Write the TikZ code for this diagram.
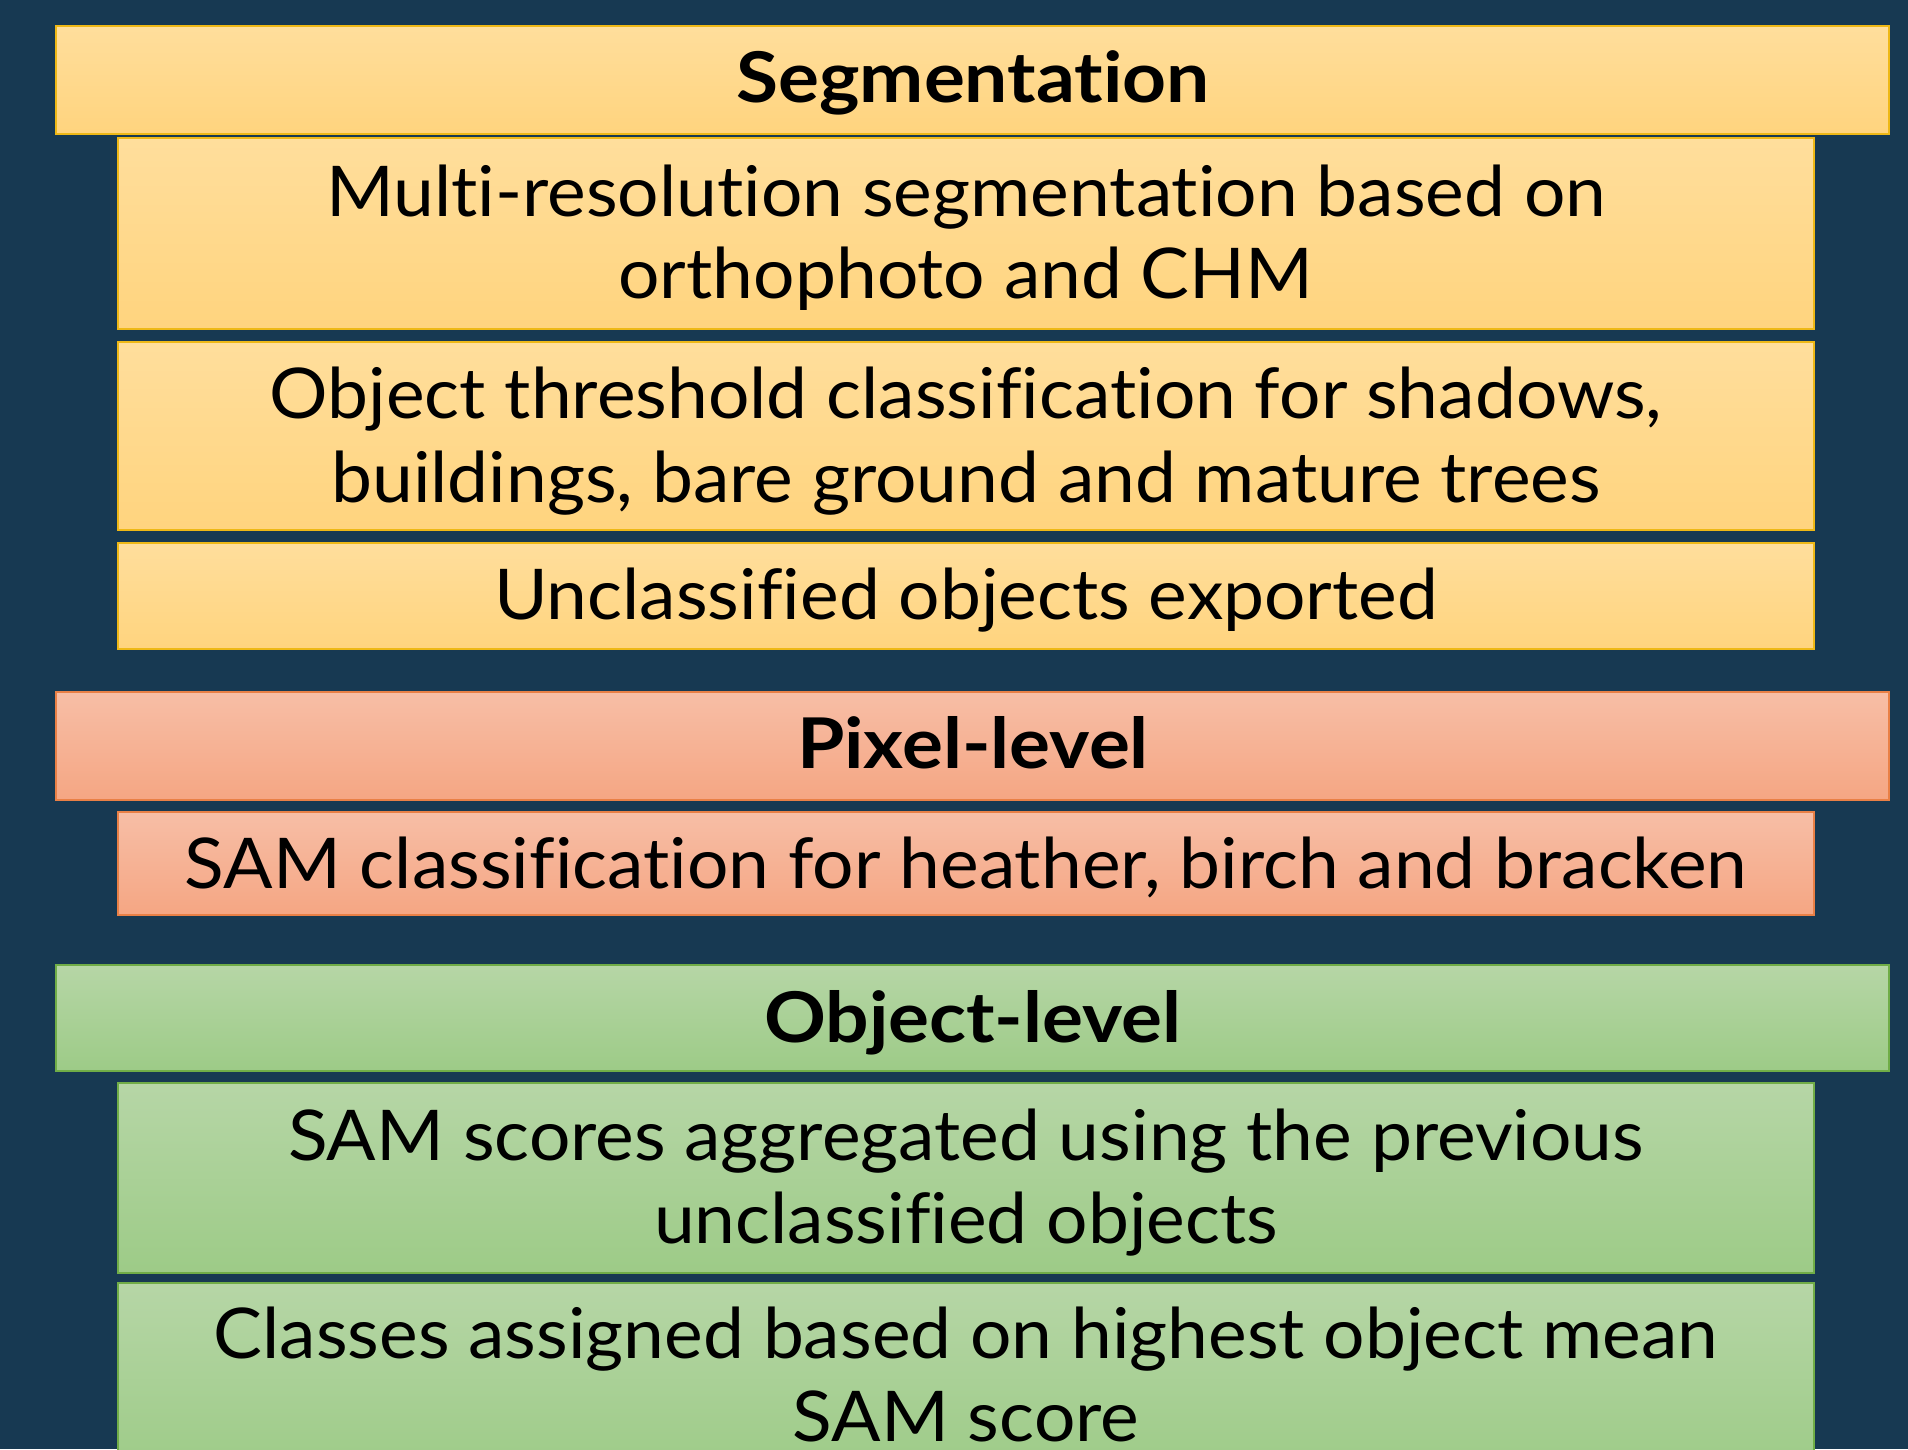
\documentclass[tikz,border=0pt]{standalone}
\usepackage{fontspec}
\setmainfont{Lato}[FakeStretch=1.045, Ligatures={NoCommon}]
\newfontfamily\hdfont{Lato}[FakeStretch=1.095, Ligatures={NoCommon}]
\definecolor{bg}{RGB}{23,57,82}
\definecolor{ytop}{RGB}{255,222,156}
\definecolor{ybot}{RGB}{255,212,126}
\definecolor{yline}{RGB}{238,184,22}
\definecolor{otop}{RGB}{247,190,166}
\definecolor{obot}{RGB}{245,166,131}
\definecolor{oline}{RGB}{233,128,70}
\definecolor{gtop}{RGB}{182,214,166}
\definecolor{gbot}{RGB}{157,203,135}
\definecolor{gline}{RGB}{112,173,71}
\tikzset{
  box/.style={draw, line width=1.5pt, inner sep=0pt, outer sep=0pt},
  ybox/.style={box, draw=yline, top color=ytop, bottom color=ybot},
  obox/.style={box, draw=oline, top color=otop, bottom color=obot},
  gbox/.style={box, draw=gline, top color=gtop, bottom color=gbot},
  wide/.style={minimum width=1833pt},
  narrow/.style={minimum width=1696pt},
  txt/.style={anchor=base, inner sep=0pt, font=\fontsize{70}{82}\selectfont},
  hd/.style={anchor=base, inner sep=0pt, font=\hdfont\fontsize{70}{82}\selectfont\bfseries},
}
\begin{document}
\begin{tikzpicture}[x=1pt,y=-1pt]
\path[use as bounding box] (0,0) rectangle (1908,1449);
\clip (0,0) rectangle (1908,1449);
\fill[bg] (0,0) rectangle (1908,1449);
% Segmentation
\node[ybox, wide, minimum height=108pt] (h1) at (972.5,80) {};
\node[ybox, narrow, minimum height=191pt] (s1) at (966,233.5) {};
\node[ybox, narrow, minimum height=188pt] (s2) at (966,436) {};
\node[ybox, narrow, minimum height=106pt] (s3) at (966,596) {};
% Pixel-level
\node[obox, wide, minimum height=108pt] (h2) at (972.5,746) {};
\node[obox, narrow, minimum height=103pt] (s4) at (966,863.5) {};
% Object-level
\node[gbox, wide, minimum height=106pt] (h3) at (972.5,1018) {};
\node[gbox, narrow, minimum height=190pt] (s5) at (966,1178) {};
\node[gbox, narrow, minimum height=190pt] (s6) at (966,1378) {};
% texts
\node[hd] (t1) at (973,102) {Segmentation};
\node[txt] (t2) at (966,216) {Multi-resolution segmentation based on};
\node[txt] (t3) at (966,298) {orthophoto and CHM};
\node[txt] (t4) at (966,418) {Object threshold classification for shadows,};
\node[txt] (t5) at (966,502) {buildings, bare ground and mature trees};
\node[txt] (t6) at (966,619) {Unclassified objects exported};
\node[hd] (t7) at (973,768) {Pixel-level};
\node[txt] (t8) at (966,888) {SAM classification for heather, birch and bracken};
\node[hd] (t9) at (973,1042) {Object-level};
\node[txt] (t10) at (966,1160) {SAM scores aggregated using the previous};
\node[txt] (t11) at (966,1243) {unclassified objects};
\node[txt] (t12) at (966,1358) {Classes assigned based on highest object mean};
\node[txt] (t13) at (966,1441) {SAM score};
\end{tikzpicture}
\end{document}
